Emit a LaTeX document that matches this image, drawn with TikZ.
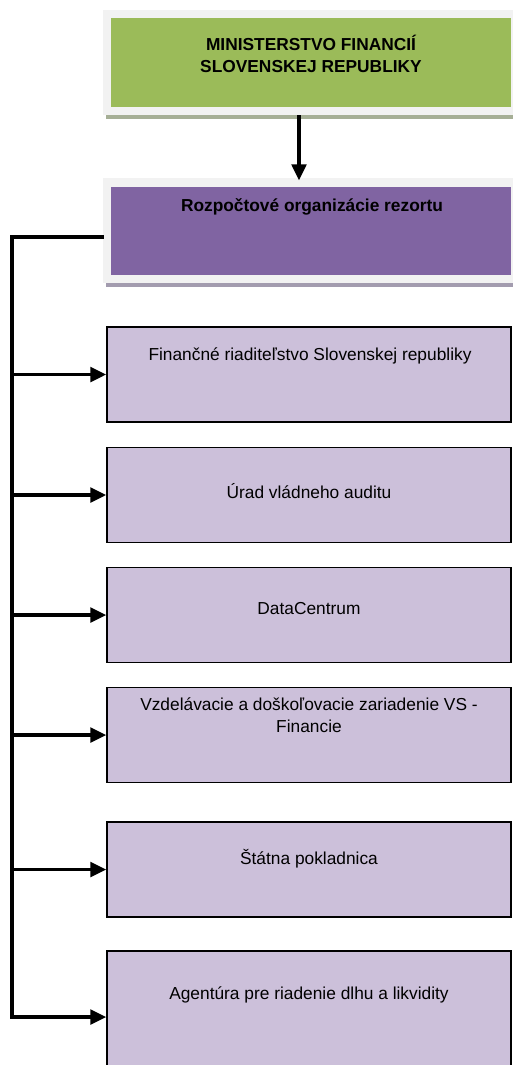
\documentclass[tikz,border=0pt]{standalone}
\usepackage{fontspec}
\setmainfont{Liberation Sans}
\usepackage{tikz}
\usetikzlibrary{arrows.meta}

\definecolor{mfgreen}{HTML}{9BBB59}
\definecolor{mfpurple}{HTML}{8064A2}
\definecolor{orglilac}{HTML}{CCC0DA}
\definecolor{framegray}{HTML}{F2F2F2}
\definecolor{greenshade}{HTML}{A6AF96}
\definecolor{purpleshade}{HTML}{A39CAF}

\begin{document}
\begin{tikzpicture}[x=0.75pt, y=-0.75pt,
    every node/.style = {font=\fontsize{13}{16.5}\selectfont},
    frame/.style = {fill=framegray, minimum width=312pt, minimum height=78.75pt, inner sep=0pt},
    headbox/.style = {minimum width=300pt, inner sep=0pt},
    orgbox/.style = {draw=black, line width=1.1pt, fill=orglilac,
      minimum width=303pt, minimum height=71.25pt, inner sep=0pt},
    link/.style = {line width=2.6pt, -{Triangle[length=12pt, width=11pt]}},
    trunk/.style = {line width=2.6pt, line cap=rect}]
  \useasboundingbox (0,0) rectangle (513,1065);

  % ministerstvo
  \fill [color=greenshade] (106,110) rectangle (519,119);
  \node [frame] (msf) at (311,62.5) {};
  \node [headbox, fill=mfgreen, minimum height=66.75pt] (ms) at (311,62.5) {};
  \node [align=center, anchor=base, font=\fontsize{13}{16.5}\selectfont\bfseries]
    (mstext) at (311,72) {MINISTERSTVO FINANCIÍ\\SLOVENSKEJ REPUBLIKY};

  % rozpoctove organizacie
  \fill [color=purpleshade] (106,277) rectangle (519,287);
  \node [frame] (rzf) at (311,230.5) {};
  \node [headbox, fill=mfpurple, minimum height=66pt] (rz) at (311,231) {};
  \node [anchor=base, font=\fontsize{13}{16.5}\selectfont\bfseries]
    (rztext) at (312,211) {Rozpočtové organizácie rezortu};

  \coordinate (mid) at (299,0);
  \draw [link, line width=2.3pt] (msf.south -| mid) -- ([yshift=-2pt]rzf.north -| mid);

  % organizacie
  \node [orgbox] (fr) at (309,374.5) {};
  \node [orgbox] (uva) at (309,495) {};
  \node [orgbox] (dc) at (309,615) {};
  \node [orgbox] (vzd) at (309,735) {};
  \node [orgbox] (sp) at (309,869.5) {};
  \node [orgbox, minimum height=96pt] (ard) at (309,1015) {};

  \node [anchor=base] (frtext) at (310,360) {Finančné riaditeľstvo Slovenskej republiky};
  \node [anchor=base] (uvatext) at (309,498) {Úrad vládneho auditu};
  \node [anchor=base] (dctext) at (309,614) {DataCentrum};
  \node [anchor=base, align=center] (vzdtext) at (309,732)
    {Vzdelávacie a doškoľovacie zariadenie VS -\\Financie};
  \node [anchor=base] (sptext) at (309,864) {Štátna pokladnica};
  \node [anchor=base] (ardtext) at (309,999) {Agentúra pre riadenie dlhu a likvidity};

  % spojnice
  \coordinate (rail) at (12,0);
  \coordinate (railend) at (12,1017);
  \draw [trunk] ([yshift=-5pt]rzf.west) -| (railend);
  \foreach \org in {fr,uva,dc,vzd,sp}
    \draw [link] (rail |- \org.west) -- (\org.west);
  \draw [link] (railend) -- (railend -| ard.west);
\end{tikzpicture}
\end{document}
